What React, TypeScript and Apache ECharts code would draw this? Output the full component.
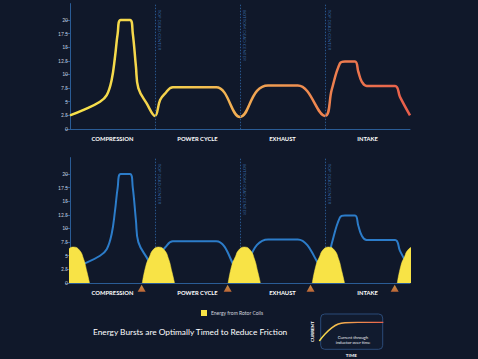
import React, { useEffect, useRef } from 'react';
import * as echarts from 'echarts';

const phases = ['COMPRESSION', 'POWER CYCLE', 'EXHAUST', 'INTAKE'];
const yTicks = [0, 2.5, 5, 7.5, 10, 12.5, 15, 17.5, 20];

const cycleX = [0, 0.16, 0.353, 0.432, 0.49, 0.53, 0.561, 0.596, 0.706, 0.738, 0.776, 0.804, 0.902, 1.0, 1.06, 1.118, 1.21, 1.72, 2.0, 2.2, 2.33, 2.68, 3.0, 3.079, 3.176, 3.235, 3.353, 3.392, 3.432, 3.49, 3.824, 3.882, 4.0];
const cycleY = [2.5, 3.5, 5.0, 6.2, 9.0, 13.3, 17.5, 20, 20, 17.6, 11.4, 7.5, 4.7, 2.4, 5.3, 6.5, 7.65, 7.65, 2.2, 7.0, 8.0, 8.0, 2.4, 7.2, 12.05, 12.4, 12.4, 10.5, 8.7, 7.9, 7.9, 5.9, 2.5];

const deadCenterX = [1, 2, 3];
const deadCenterNames = ['TOP DEAD CENTER', 'BOTTOM DEAD CENTER', 'TOP DEAD CENTER'];

const burstCenters = [0.04, 1.04, 2.05, 3.04, 4.04];
const burstOffsets = [-0.19, -0.145, -0.105, -0.065, 0, 0.07, 0.12, 0.16, 0.19];
const burstValues = [0, 3.3, 4.8, 6.05, 6.6, 6.05, 4.4, 2.0, 0];

const triggerX = [0.843, 1.855, 2.83, 3.82];

const inductorT = [0, 0.09, 0.194, 0.297, 0.401, 0.6, 1];
const inductorI = [0, 0.37, 0.7, 0.91, 0.98, 1, 1];

const BG = '#10182a';
const AXIS = '#2a5c96';
const FONT = 'Lato';

export default function App() {
  const ref = useRef<HTMLDivElement>(null);
  useEffect(() => {
    if (!ref.current) return;
    const chart = echarts.init(ref.current, null, { renderer: 'svg' });
    const cycleData = cycleX.map((x, i) => [x, cycleY[i]]);
    const burstData: any[] = [];
    burstCenters.forEach((c, k) => {
      if (k > 0) burstData.push([c - 0.5, '-']);
      burstOffsets.forEach((o, i) => burstData.push([c + o, burstValues[i]]));
    });
    const markLine = {
      silent: true,
      symbol: ['none', 'none'],
      lineStyle: { color: AXIS, width: 1, type: [1.5, 1.5], opacity: 0.9 },
      label: {
        show: true,
        position: 'insideStartTop',
        distance: [5, 2],
        formatter: (p: any) => p.name,
        color: '#3c74b4',
        fontSize: 4.5,
        fontFamily: FONT,
      },
      data: deadCenterX.map((x, i) => [
        { coord: [x, 22.8], name: deadCenterNames[i] },
        { coord: [x, 0] },
      ]),
    };
    const catAxis = (gi: number) => ({
      type: 'category',
      gridIndex: gi,
      data: phases,
      boundaryGap: true,
      axisLine: { lineStyle: { color: AXIS, width: 1 } },
      axisTick: { length: 5, lineStyle: { color: AXIS } },
      axisLabel: { color: '#ffffff', fontSize: 5.8, fontWeight: 'bold', fontFamily: FONT, margin: 6 },
    });
    const valX = (gi: number) => ({ type: 'value', gridIndex: gi, min: 0, max: 4, show: false });
    const valY = (gi: number) => ({
      type: 'value',
      gridIndex: gi,
      min: 0,
      max: 23,
      interval: 2.5,
      splitLine: { show: false },
      axisLine: { show: true, lineStyle: { color: AXIS, width: 1 } },
      axisTick: { show: true, length: 5, customValues: yTicks, lineStyle: { color: AXIS } },
      axisLabel: { customValues: yTicks, color: '#c8cdd9', fontSize: 5, fontFamily: FONT, margin: 2 },
    });
    const topGrad = new echarts.graphic.LinearGradient(0, 0, 1, 0, [
      { offset: 0, color: '#f6e24a' },
      { offset: 0.3, color: '#f4d04c' },
      { offset: 0.45, color: '#f2b453' },
      { offset: 0.7, color: '#ef8a50' },
      { offset: 1, color: '#e85e4b' },
    ]);
    const insetGrad = new echarts.graphic.LinearGradient(0, 0, 1, 0, [
      { offset: 0, color: '#f6e24a' },
      { offset: 0.4, color: '#f2a64f' },
      { offset: 1, color: '#e8604b' },
    ]);
    chart.setOption({
      animation: false,
      backgroundColor: BG,
      textStyle: { fontFamily: FONT },
      title: {
        text: 'Energy Bursts are Optimally Timed to Reduce Friction',
        left: 93,
        top: 328,
        padding: 0,
        textStyle: { color: '#ffffff', fontSize: 8.3, fontWeight: 'normal', fontFamily: FONT },
      },
      legend: {
        data: ['Energy from Rotor Coils'],
        left: 196,
        top: 305,
        icon: 'rect',
        itemWidth: 6,
        itemHeight: 6,
        itemGap: 4,
        textStyle: { color: '#d0d4df', fontSize: 5, fontFamily: FONT, padding: [0, 0, 0, -1] },
      },
      grid: [
        { left: 70, top: 3.6, width: 340, height: 125.4 },
        { left: 70, top: 157.6, width: 340, height: 125.4 },
        { left: 319.3, top: 322.3, width: 64, height: 20.4 },
      ],
      xAxis: [
        catAxis(0),
        valX(0),
        catAxis(1),
        valX(1),
        {
          type: 'value', gridIndex: 2, min: 0, max: 1,
          axisLine: { show: false }, axisTick: { show: false }, axisLabel: { show: false }, splitLine: { show: false },
          name: 'TIME', nameLocation: 'middle', nameGap: 12,
          nameTextStyle: { color: '#ffffff', fontSize: 4.5, fontWeight: 'bold', fontFamily: FONT },
        },
      ],
      yAxis: [
        valY(0),
        valY(1),
        {
          type: 'value', gridIndex: 2, min: 0, max: 1,
          axisLine: { show: false }, axisTick: { show: false }, axisLabel: { show: false }, splitLine: { show: false },
          name: 'CURRENT', nameLocation: 'middle', nameRotate: 90, nameGap: 4,
          nameTextStyle: { color: '#ffffff', fontSize: 4.5, fontWeight: 'bold', fontFamily: FONT },
        },
      ],
      graphic: [
        {
          type: 'rect',
          shape: { x: 320.7, y: 314, width: 62, height: 35.3, r: 4 },
          style: { fill: 'rgba(40,70,120,0.08)', stroke: '#2b4b78', lineWidth: 1 },
          z: -1,
        },
        {
          type: 'text',
          x: 353,
          y: 340,
          style: {
            text: 'Current through\ninductor over time',
            fill: '#e6e8ee',
            fontSize: 4.3,
            fontFamily: FONT,
            align: 'center',
            verticalAlign: 'middle',
            lineHeight: 5,
          },
        },
      ],
      series: [
        {
          type: 'line',
          xAxisIndex: 1,
          yAxisIndex: 0,
          data: cycleData,
          smooth: 0.4,
          symbol: 'none',
          lineStyle: { width: 2.5, color: topGrad },
          markLine,
        },
        {
          type: 'line',
          xAxisIndex: 3,
          yAxisIndex: 1,
          data: cycleData,
          smooth: 0.4,
          symbol: 'none',
          lineStyle: { width: 2, color: '#2c7cc9' },
          markLine,
        },
        {
          name: 'Energy from Rotor Coils',
          type: 'line',
          xAxisIndex: 3,
          yAxisIndex: 1,
          z: 8,
          data: burstData,
          smooth: 0.5,
          symbol: 'none',
          connectNulls: false,
          color: '#f8e346',
          lineStyle: { width: 0.5, color: '#f8e346' },
          areaStyle: { color: '#f8e346', opacity: 1 },
        },
        {
          type: 'scatter',
          xAxisIndex: 3,
          yAxisIndex: 1,
          z: 9,
          clip: false,
          data: triggerX.map((x) => [x, -0.95]),
          symbol: 'triangle',
          symbolSize: [8, 7],
          itemStyle: {
            color: new echarts.graphic.LinearGradient(0, 0, 0, 1, [
              { offset: 0, color: '#f6b04a' },
              { offset: 1, color: '#ea7a3a' },
            ]),
          },
        },
        {
          type: 'line',
          xAxisIndex: 4,
          yAxisIndex: 2,
          data: inductorT.map((t, i) => [t, inductorI[i]]),
          smooth: 0.4,
          symbol: 'none',
          lineStyle: { width: 1.5, color: insetGrad },
        },
      ],
    });
    return () => chart.dispose();
  }, []);
  return (
    <div
      ref={ref}
      style={{ position: 'fixed', left: 0, top: 0, width: 478, height: 359, background: BG }}
    />
  );
}
